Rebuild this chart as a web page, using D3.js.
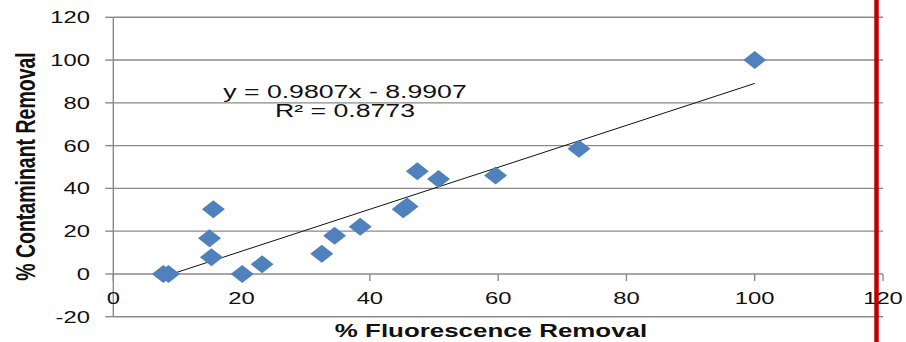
<!DOCTYPE html>
<html>
<head>
<meta charset="utf-8">
<script src="https://cdn.jsdelivr.net/npm/d3@7"></script>
<style>
  html, body { margin: 0; padding: 0; background: #fff; }
  svg { display: block; }
  text { font-family: "Liberation Sans", Arial, sans-serif; fill: #111; }
</style>
</head>
<body>
<svg id="chart" width="906" height="342"></svg>
<script>
// ---- data ----
const fluorescenceRemoval = [7.8, 8.6, 15.0, 15.3, 15.6, 20.1, 23.2, 32.5, 34.5, 38.5, 45.2, 45.8, 47.4, 50.7, 59.6, 72.6, 100];
const contaminantRemoval  = [0, 0, 16.7, 7.8, 30.3, 0, 4.5, 9.4, 17.9, 22.1, 30.3, 31.5, 48.0, 44.4, 46.0, 58.5, 100];
const xTicks = [0, 20, 40, 60, 80, 100, 120];
const yTicks = [-20, 0, 20, 40, 60, 80, 100, 120];
const trendSlope = 0.9807;
const trendIntercept = -8.9907;
const equationLines = ["y = 0.9807x - 8.9907", "R\u00B2 = 0.8773"];
const xTitle = "% Fluorescence Removal";
const yTitle = "% Contaminant Removal";

// ---- layout ----
(function () {
const svg = d3.select("#chart");
const pLeft = 113.3, pRight = 883, pTop = 17.3, pBottom = 316.7;
const stretch = 1.4;
const x = d3.scaleLinear().domain([0, 120]).range([pLeft, pRight]);
const y = d3.scaleLinear().domain([-20, 120]).range([pBottom, pTop]);
const gridColor = "#8a8a8a";

// horizontal gridlines
svg.append("g").selectAll("line").data(yTicks).join("line")
  .attr("x1", pLeft).attr("x2", pRight)
  .attr("y1", d => y(d)).attr("y2", d => y(d))
  .attr("stroke", gridColor).attr("stroke-width", 1.4);

// y axis line + ticks
svg.append("line").attr("x1", pLeft).attr("x2", pLeft).attr("y1", pTop).attr("y2", pBottom)
  .attr("stroke", gridColor).attr("stroke-width", 1.4);
svg.append("g").selectAll("line").data(yTicks).join("line")
  .attr("x1", pLeft - 8).attr("x2", pLeft)
  .attr("y1", d => y(d)).attr("y2", d => y(d))
  .attr("stroke", gridColor).attr("stroke-width", 1.4);
svg.append("g").selectAll("text").data(yTicks).join("text")
  .attr("transform", d => `translate(90,${y(d) + 6.1}) scale(${stretch},1)`)
  .attr("text-anchor", "end")
  .attr("font-size", 17)
  .text(d => d);

// x axis (at y = 0) ticks
svg.append("g").selectAll("line").data(xTicks).join("line")
  .attr("x1", d => x(d)).attr("x2", d => x(d))
  .attr("y1", y(0)).attr("y2", y(0) + 7)
  .attr("stroke", gridColor).attr("stroke-width", 1.4);
svg.append("g").selectAll("text").data(xTicks).join("text")
  .attr("transform", d => `translate(${x(d)},304) scale(${stretch},1)`)
  .attr("text-anchor", "middle")
  .attr("font-size", 17)
  .text(d => d);

// trendline
const xMin = d3.min(fluorescenceRemoval), xMax = d3.max(fluorescenceRemoval);
svg.append("line")
  .attr("x1", x(xMin)).attr("y1", y(trendSlope * xMin + trendIntercept))
  .attr("x2", x(xMax)).attr("y2", y(trendSlope * xMax + trendIntercept))
  .attr("stroke", "#111").attr("stroke-width", 1);

// diamonds
const pts = fluorescenceRemoval.map((v, i) => [v, contaminantRemoval[i]]);
svg.append("g").selectAll("path").data(pts).join("path")
  .attr("d", d => {
    const cx = x(d[0]), cy = y(d[1]);
    return `M${cx - 11.5},${cy}L${cx},${cy - 9}L${cx + 11.5},${cy}L${cx},${cy + 9}Z`;
  })
  .attr("fill", "#4f81bd");

// equation
svg.append("g").selectAll("text").data(equationLines).join("text")
  .attr("transform", (d, i) => `translate(345,${97.5 + i * 19.8}) scale(1.48,1)`)
  .attr("text-anchor", "middle")
  .attr("font-size", 18)
  .text(d => d);

// axis titles
svg.append("text")
  .attr("transform", `translate(491,337) scale(${stretch},1)`)
  .attr("text-anchor", "middle")
  .attr("font-size", 18.5).attr("font-weight", "bold")
  .text(xTitle);
svg.append("text")
  .attr("transform", `translate(35,166.5) scale(${stretch},1) rotate(-90)`)
  .attr("text-anchor", "middle")
  .attr("font-size", 19.5).attr("font-weight", "bold")
  .text(yTitle);

// red vertical marker line
svg.append("line")
  .attr("x1", 876.5).attr("x2", 876.5).attr("y1", 0).attr("y2", 342)
  .attr("stroke", "#c00000").attr("stroke-width", 4.5);
})();
</script>
</body>
</html>
